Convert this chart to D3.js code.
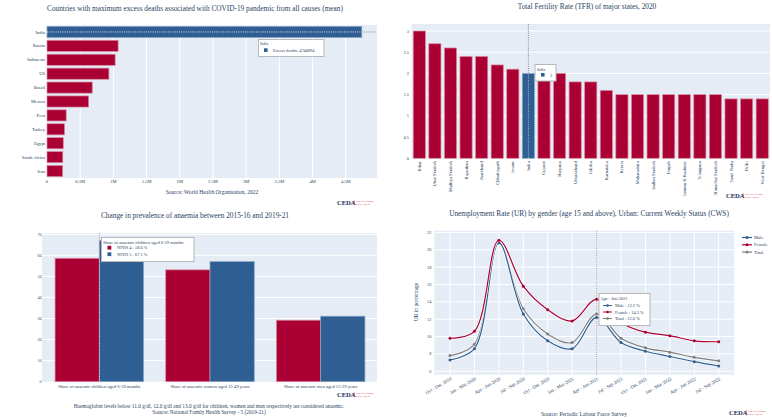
<!DOCTYPE html>
<html><head><meta charset="utf-8">
<script src="https://cdn.jsdelivr.net/npm/d3@7"></script>
<style>
body{margin:0;background:#fff;}
svg{display:block;}
text{font-family:"Liberation Serif","DejaVu Serif",Georgia,serif;fill:#2a3f5f;}
</style></head>
<body>
<svg id="chart" width="772" height="418"></svg>
<script>
// ---------- DATA ----------
const covidCountries = ["India","Russia","Indonesia","US","Brazil","Mexico","Peru","Turkey","Egypt","South Africa","Iran"];
const covidDeaths = [4740894,1071050,1026470,932458,681350,626830,289000,264000,245000,238000,236000];
const covidTicks = [0,0.5e6,1e6,1.5e6,2e6,2.5e6,3e6,3.5e6,4e6,4.5e6];
const covidTickLabels = ["0","0.5M","1M","1.5M","2M","2.5M","3M","3.5M","4M","4.5M"];

const tfrStates = ["Bihar","Uttar Pradesh","Madhya Pradesh","Rajasthan","Jharkhand","Chhattisgarh","Assam","India","Gujarat","Haryana","Uttarakhand","Odisha","Karnataka","Kerala","Maharashtra","Andhra Pradesh","Punjab","Jammu & Kashmir","Telangana","Himachal Pradesh","Tamil Nadu","Delhi","West Bengal"];
const tfrValues = [3.0,2.7,2.6,2.4,2.4,2.2,2.1,2.0,2.0,2.0,1.8,1.8,1.6,1.5,1.5,1.5,1.5,1.5,1.5,1.5,1.4,1.4,1.4];
const tfrTicks = [0,0.5,1,1.5,2,2.5,3];

const anaemiaGroups = ["Share of anaemic children aged 6-59 months","Share of anaemic women aged 15-49 years","Share of anaemic men aged 15-19 years"];
const anaemiaSeries = ["NFHS 4","NFHS 5"];
const anaemiaNFHS4 = [58.6,53.1,29.2];
const anaemiaNFHS5 = [67.1,57.0,31.1];
const anaemiaTicks = [0,10,20,30,40,50,60,70];

const urQuarters = ["Oct - Dec 2019","Jan - Mar 2020","Apr - Jun 2020","Jul - Sep 2020","Oct - Dec 2020","Jan - Mar 2021","Apr - Jun 2021","Jul - Sep 2021","Oct - Dec 2021","Jan - Mar 2022","Apr - Jun 2022","Jul - Sep 2022"];
const urMale   = [7.3,8.6,20.8,12.6,9.5,8.6,12.2,9.3,8.3,7.7,7.1,6.6];
const urFemale = [9.8,10.6,21.1,15.8,13.1,11.8,14.3,11.6,10.5,10.1,9.5,9.4];
const urTotal  = [7.8,9.1,20.8,13.2,10.3,9.3,12.6,9.8,8.7,8.2,7.6,7.2];
const urTicks = [6,8,10,12,14,16,18,20,22];

// ---------- STYLE ----------
const RED = "#ab0033", BLUE = "#2f5f92", GRAY = "#7f7f7f", BG = "#e5ecf6", TXT = "#2a3f5f";
const svg = d3.select("#chart");

function logo(x, y){
  const g = svg.append("g").attr("transform", `translate(${x},${y})`);
  g.append("text").attr("x",0).attr("y",0).attr("font-family","DejaVu Sans, sans-serif")
    .attr("font-weight","bold").attr("font-size",6.5).style("fill","#1c2f5a").text("CEDA");
  g.append("line").attr("x1",17.5).attr("x2",17.5).attr("y1",-5).attr("y2",0.5).attr("stroke","#d33").attr("stroke-width",0.4);
  g.append("text").attr("x",18.5).attr("y",-2.8).attr("font-size",2.2).style("fill","#d33").text("Centre for Economic");
  g.append("text").attr("x",18.5).attr("y",-0.3).attr("font-size",2.2).style("fill","#d33").text("Data & Analysis");
}
function tooltip(x, y, w, h){
  return svg.append("rect").attr("x",x).attr("y",y).attr("width",w).attr("height",h)
    .attr("fill","#fff").attr("stroke","#b8b8b8").attr("stroke-width",1);
}

// ---------- PANEL 1: COVID excess deaths ----------
{
  const x0=47,x1=377,y0=25,y1=178;
  const x = d3.scaleLinear().domain([0,4.97e6]).range([x0,x1]);
  const y = d3.scaleBand().domain(covidCountries).range([y0,y1]).paddingInner(0.2).paddingOuter(0.1);
  svg.append("rect").attr("x",x0).attr("y",y0).attr("width",x1-x0).attr("height",y1-y0).attr("fill",BG);
  svg.append("g").selectAll("line").data(covidTicks.slice(1)).join("line")
    .attr("x1",d=>x(d)).attr("x2",d=>x(d)).attr("y1",y0).attr("y2",y1).attr("stroke","#fff").attr("stroke-width",1);
  svg.append("g").selectAll("rect").data(covidCountries).join("rect")
    .attr("x",x0).attr("y",d=>y(d)).attr("width",(d,i)=>x(covidDeaths[i])-x0).attr("height",y.bandwidth())
    .attr("fill",d=>d==="India"?BLUE:RED).attr("stroke",d=>d==="India"?"#8aa6c6":"#d88aa0").attr("stroke-width",0.7);
  const iy = y("India")+y.bandwidth()/2;
  svg.append("line").attr("x1",x0).attr("x2",x(covidDeaths[0])).attr("y1",iy).attr("y2",iy)
    .attr("stroke","#fff").attr("stroke-width",0.8).attr("stroke-dasharray","1,1.2");
  svg.append("line").attr("x1",x(covidDeaths[0])).attr("x2",x1).attr("y1",iy).attr("y2",iy)
    .attr("stroke","#555").attr("stroke-width",0.6).attr("stroke-dasharray","1,1.2");
  svg.append("g").selectAll("text").data(covidCountries).join("text")
    .attr("x",x0-2).attr("y",d=>y(d)+y.bandwidth()/2+1.6).attr("text-anchor","end").attr("font-size",4.6).text(d=>d);
  svg.append("g").selectAll("text").data(covidTicks).join("text")
    .attr("x",d=>x(d)).attr("y",183).attr("text-anchor","middle").attr("font-size",4.6).text((d,i)=>covidTickLabels[i]);
  svg.append("text").attr("x",195).attr("y",11).attr("text-anchor","middle").attr("font-size",7.3)
    .text("Countries with maximum excess deaths associated with COVID-19 pandemic from all causes (mean)");
  svg.append("text").attr("x",212).attr("y",194).attr("text-anchor","middle").attr("font-size",5.6)
    .text("Source: World Health Organisation, 2022");
  tooltip(258.5,39.5,65.5,17);
  svg.append("text").attr("x",260).attr("y",45).attr("font-size",4).text("India");
  svg.append("rect").attr("x",264).attr("y",48.3).attr("width",3.6).attr("height",3.6).attr("fill",BLUE);
  svg.append("text").attr("x",273).attr("y",51.6).attr("font-size",4.3).text("Excess deaths: "+covidDeaths[0]);
  logo(337,205);
}

// ---------- PANEL 2: TFR ----------
{
  const x0=411.5,x1=770,y0=24,y1=158.3;
  const x = d3.scaleBand().domain(tfrStates).range([x0,x1]).paddingInner(0.22).paddingOuter(0.11);
  const y = d3.scaleLinear().domain([0,3.165]).range([y1,y0]);
  svg.append("rect").attr("x",x0).attr("y",y0).attr("width",x1-x0).attr("height",y1-y0).attr("fill",BG);
  svg.append("g").selectAll("line").data(tfrTicks.slice(1)).join("line")
    .attr("x1",x0).attr("x2",x1).attr("y1",d=>y(d)).attr("y2",d=>y(d)).attr("stroke","#fff").attr("stroke-width",1);
  svg.append("g").selectAll("rect").data(tfrStates).join("rect")
    .attr("x",d=>x(d)).attr("width",x.bandwidth()).attr("y",(d,i)=>y(tfrValues[i])).attr("height",(d,i)=>y1-y(tfrValues[i]))
    .attr("fill",d=>d==="India"?BLUE:RED).attr("stroke",d=>d==="India"?"#8aa6c6":"#d88aa0").attr("stroke-width",0.7);
  const ix = x("India")+x.bandwidth()/2;
  svg.append("line").attr("x1",ix).attr("x2",ix).attr("y1",y0).attr("y2",y(2.0))
    .attr("stroke","#444").attr("stroke-width",0.6).attr("stroke-dasharray","1,1.2");
  svg.append("line").attr("x1",ix).attr("x2",ix).attr("y1",y(2.0)).attr("y2",y1)
    .attr("stroke","#fff").attr("stroke-width",0.6).attr("stroke-dasharray","1,1.2");
  svg.append("g").selectAll("text").data(tfrTicks).join("text")
    .attr("x",x0-2.5).attr("y",d=>y(d)+1.5).attr("text-anchor","end").attr("font-size",4.3).text(d=>d);
  svg.append("g").selectAll("text").data(tfrStates).join("text")
    .attr("transform",d=>`translate(${x(d)+x.bandwidth()/2+1.5},${y1+3}) rotate(-90)`)
    .attr("text-anchor","end").attr("font-size",4.6).text(d=>d);
  svg.append("text").attr("x",587).attr("y",9).attr("text-anchor","middle").attr("font-size",7.3)
    .text("Total Fertility Rate (TFR) of major states, 2020");
  tooltip(535,64.5,21,16.5);
  svg.append("text").attr("x",537).attr("y",70.5).attr("font-size",4).text("India");
  svg.append("rect").attr("x",541).attr("y",73).attr("width",3.6).attr("height",3.6).attr("fill",BLUE);
  svg.append("text").attr("x",550).attr("y",77).attr("font-size",4.3).text(tfrValues[7]);
  logo(726,198);
}

// ---------- PANEL 3: Anaemia ----------
{
  const x0=42,x1=377,y0=233,y1=381.7;
  const x = d3.scaleBand().domain(anaemiaGroups).range([x0+2,x1-1]).paddingInner(0.2).paddingOuter(0.1);
  const xs = d3.scaleBand().domain(anaemiaSeries).range([0,x.bandwidth()]);
  const y = d3.scaleLinear().domain([0,70.6]).range([y1,y0]);
  const vals = [anaemiaNFHS4, anaemiaNFHS5];
  const cols = [RED, BLUE];
  svg.append("rect").attr("x",x0).attr("y",y0).attr("width",x1-x0).attr("height",y1-y0).attr("fill",BG);
  svg.append("g").selectAll("line").data(anaemiaTicks.slice(1)).join("line")
    .attr("x1",x0).attr("x2",x1).attr("y1",d=>y(d)).attr("y2",d=>y(d)).attr("stroke","#fff").attr("stroke-width",1);
  anaemiaSeries.forEach((s,si)=>{
    svg.append("g").selectAll("rect").data(anaemiaGroups).join("rect")
      .attr("x",d=>x(d)+xs(s)).attr("width",xs.bandwidth()).attr("y",(d,i)=>y(vals[si][i])).attr("height",(d,i)=>y1-y(vals[si][i]))
      .attr("fill",cols[si]).attr("stroke",si?"#8aa6c6":"#d88aa0").attr("stroke-width",0.7);
  });
  const cx = x(anaemiaGroups[0])+x.bandwidth()/2;
  svg.append("line").attr("x1",cx).attr("x2",cx).attr("y1",y0).attr("y2",y1)
    .attr("stroke","#fff").attr("stroke-width",0.7).attr("stroke-dasharray","1,1.2");
  svg.append("line").attr("x1",cx).attr("x2",cx).attr("y1",y0).attr("y2",y(anaemiaNFHS4[0]))
    .attr("stroke","#555").attr("stroke-width",0.6).attr("stroke-dasharray","1,1.2");
  svg.append("g").selectAll("text").data(anaemiaTicks).join("text")
    .attr("x",x0-0.5).attr("y",d=>y(d)+1.5).attr("text-anchor","end").attr("font-size",4).text(d=>d);
  svg.append("g").selectAll("text").data(anaemiaGroups).join("text")
    .attr("x",d=>x(d)+x.bandwidth()/2).attr("y",387.5).attr("text-anchor","middle").attr("font-size",4.6).text(d=>d);
  svg.append("text").attr("x",195).attr("y",218).attr("text-anchor","middle").attr("font-size",7.3)
    .text("Change in prevalence of anaemia between 2015-16 and 2019-21");
  svg.append("text").attr("x",209).attr("y",407.5).attr("text-anchor","middle").attr("font-size",5.3)
    .text("Haemoglobin levels below 11.0 g/dl, 12.0 g/dl and 13.0 g/dl for children, women and men respectively are considered anaemic.");
  svg.append("text").attr("x",209).attr("y",414).attr("text-anchor","middle").attr("font-size",5.3)
    .text("Source: National Family Health Survey - 5 (2019-21)");
  tooltip(101.5,237.5,92.5,24);
  svg.append("text").attr("x",103).attr("y",243.5).attr("font-size",4.5).text(anaemiaGroups[0]);
  anaemiaSeries.forEach((s,si)=>{
    svg.append("rect").attr("x",107.5).attr("y",245.8+si*6.5).attr("width",3.8).attr("height",3.8).attr("fill",cols[si]);
    svg.append("text").attr("x",117).attr("y",249.3+si*6.5).attr("font-size",4.4).text(`${s} : ${vals[si][0]} %`);
  });
  logo(337,397);
}

// ---------- PANEL 4: Unemployment ----------
{
  const x0=434.3,x1=734.3,y0=230.7,y1=374.7;
  const x = d3.scalePoint().domain(urQuarters).range([450,718.7]);
  const y = d3.scaleLinear().domain([5.6,22.2]).range([y1,y0]);
  svg.append("rect").attr("x",x0).attr("y",y0).attr("width",x1-x0).attr("height",y1-y0).attr("fill",BG);
  svg.append("g").selectAll("line").data(urTicks).join("line")
    .attr("x1",x0).attr("x2",x1).attr("y1",d=>y(d)).attr("y2",d=>y(d)).attr("stroke","#fff").attr("stroke-width",1);
  svg.append("g").selectAll("line").data(urQuarters).join("line")
    .attr("x1",d=>x(d)).attr("x2",d=>x(d)).attr("y1",y0).attr("y2",y1).attr("stroke","#fff").attr("stroke-width",1);
  const vx = x(urQuarters[6]);
  svg.append("line").attr("x1",vx).attr("x2",vx).attr("y1",y0).attr("y2",y1)
    .attr("stroke","#555").attr("stroke-width",0.6).attr("stroke-dasharray","1,1.2");
  const series = [
    {name:"Male", vals:urMale, col:BLUE},
    {name:"Female", vals:urFemale, col:RED},
    {name:"Total", vals:urTotal, col:GRAY}
  ];
  const line = d3.line().x((d,i)=>x(urQuarters[i])).y(d=>y(d)).curve(d3.curveCatmullRom.alpha(0.5));
  [series[2],series[0],series[1]].forEach(s=>{
    svg.append("path").attr("d",line(s.vals)).attr("fill","none").attr("stroke","#fff").attr("stroke-width",2.6).attr("stroke-opacity",0.8);
    svg.append("path").attr("d",line(s.vals)).attr("fill","none").attr("stroke",s.col).attr("stroke-width",1.2);
    svg.append("g").selectAll("circle").data(s.vals).join("circle")
      .attr("cx",(d,i)=>x(urQuarters[i])).attr("cy",d=>y(d)).attr("r",1.5).attr("fill",s.col);
  });
  svg.append("g").selectAll("text").data(urTicks).join("text")
    .attr("x",x0-3).attr("y",d=>y(d)+1.5).attr("text-anchor","end").attr("font-size",4.3).text(d=>d);
  svg.append("g").selectAll("text").data(urQuarters).join("text")
    .attr("transform",d=>`translate(${x(d)+2},${y1+5}) rotate(-30)`)
    .attr("text-anchor","end").attr("font-size",4.8).text(d=>d);
  svg.append("text").attr("transform","translate(418,302) rotate(-90)").attr("text-anchor","middle").attr("font-size",5.5)
    .text("UR in percentage");
  svg.append("text").attr("x",589).attr("y",216).attr("text-anchor","middle").attr("font-size",7.3)
    .text("Unemployment Rate (UR) by gender (age 15 and above), Urban: Current Weekly Status (CWS)");
  svg.append("text").attr("x",584).attr("y",416).attr("text-anchor","middle").attr("font-size",5.6)
    .text("Source: Periodic Labour Force Survey");
  // legend
  series.forEach((s,i)=>{
    const ly = 237.5 + i*7.3;
    svg.append("line").attr("x1",742).attr("x2",752).attr("y1",ly).attr("y2",ly).attr("stroke",s.col).attr("stroke-width",1.2);
    svg.append("circle").attr("cx",747).attr("cy",ly).attr("r",1.5).attr("fill",s.col);
    svg.append("text").attr("x",754).attr("y",ly+1.6).attr("font-size",4.6).text(s.name);
  });
  // tooltip
  tooltip(599,293.5,51,32);
  svg.append("text").attr("x",600.5).attr("y",300).attr("font-size",4.5).text(urQuarters[6]);
  series.forEach((s,i)=>{
    const ty = 305.5 + i*6.5;
    svg.append("line").attr("x1",603).attr("x2",612).attr("y1",ty).attr("y2",ty).attr("stroke",s.col).attr("stroke-width",1);
    svg.append("circle").attr("cx",607.5).attr("cy",ty).attr("r",1.3).attr("fill",s.col);
    svg.append("text").attr("x",615).attr("y",ty+1.6).attr("font-size",4.4).text(`${s.name} : ${s.vals[6]} %`);
  });
  logo(729,415);
}
</script>
</body></html>
